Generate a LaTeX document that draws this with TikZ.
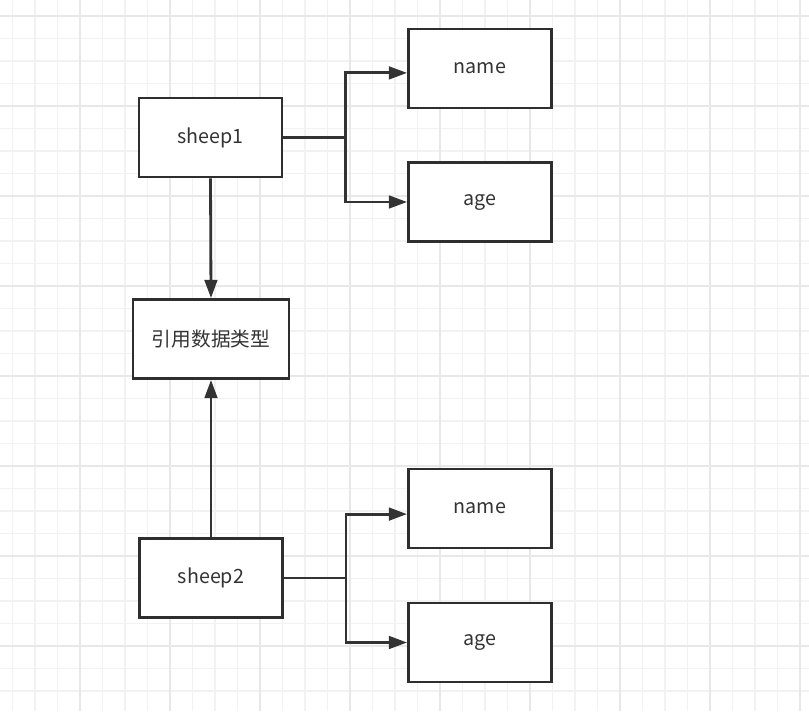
\documentclass[tikz,border=0pt]{standalone}
\usepackage{fontspec}
\setmainfont{Noto Sans CJK SC}
\usetikzlibrary{arrows.meta}

\begin{document}
\begin{tikzpicture}[x=0.025cm, y=-0.025cm, every node/.style={font=\fontsize{14}{16}\selectfont, text=black!80},
    box/.style={draw=black!82, line width=2pt, fill=white, minimum width=3.575cm, minimum height=1.975cm, inner sep=0pt},
    link/.style={draw=black!80, line width=2pt, -{Triangle[length=13pt,width=9pt]}}]
    \useasboundingbox (0,0) rectangle (809,711);
    % Grid
    \foreach \i in {0,...,35}
        \draw[line width=1.2pt, black!5] (12.5+22.5*\i,0) -- (12.5+22.5*\i,711);
    \foreach \i in {0,...,31}
        \draw[line width=1.2pt, black!5] (0,16+22.5*\i) -- (809,16+22.5*\i);
    \foreach \i in {0,...,8}
        \draw[line width=1.2pt, black!9] (80+90*\i,0) -- (80+90*\i,711);
    \foreach \i in {0,...,7}
        \draw[line width=1.2pt, black!9] (0,16+90*\i) -- (809,16+90*\i);
    % Boxes
    \node[box] (sheep1) at (210.5,137.5) {sheep1};
    \node[box] (name1) at (480,68.5) {name};
    \node[box] (age1) at (480,202) {age};
    \node[box, minimum width=3.9cm] (reftype) at (211,339) {引用数据类型};
    \node[box] (sheep2) at (211,578) {sheep2};
    \node[box] (name2) at (480,508.5) {name};
    \node[box] (age2) at (480,642.5) {age};
    % Links
    \draw[link] (sheep1.east) -- ++(62,0) |- ([yshift=-0.11cm]name1.west);
    \draw[link] (sheep1.east) -- ++(62,0) |- (age1.west);
    \draw[link] (sheep1.south) -- (reftype.north);
    \draw[link] (sheep2.north) -- (reftype.south);
    \draw[link] (sheep2.east) -- ++(62,0) |- ([yshift=-0.14cm]name2.west);
    \draw[link] (sheep2.east) -- ++(62,0) |- (age2.west);
\end{tikzpicture}
\end{document}
